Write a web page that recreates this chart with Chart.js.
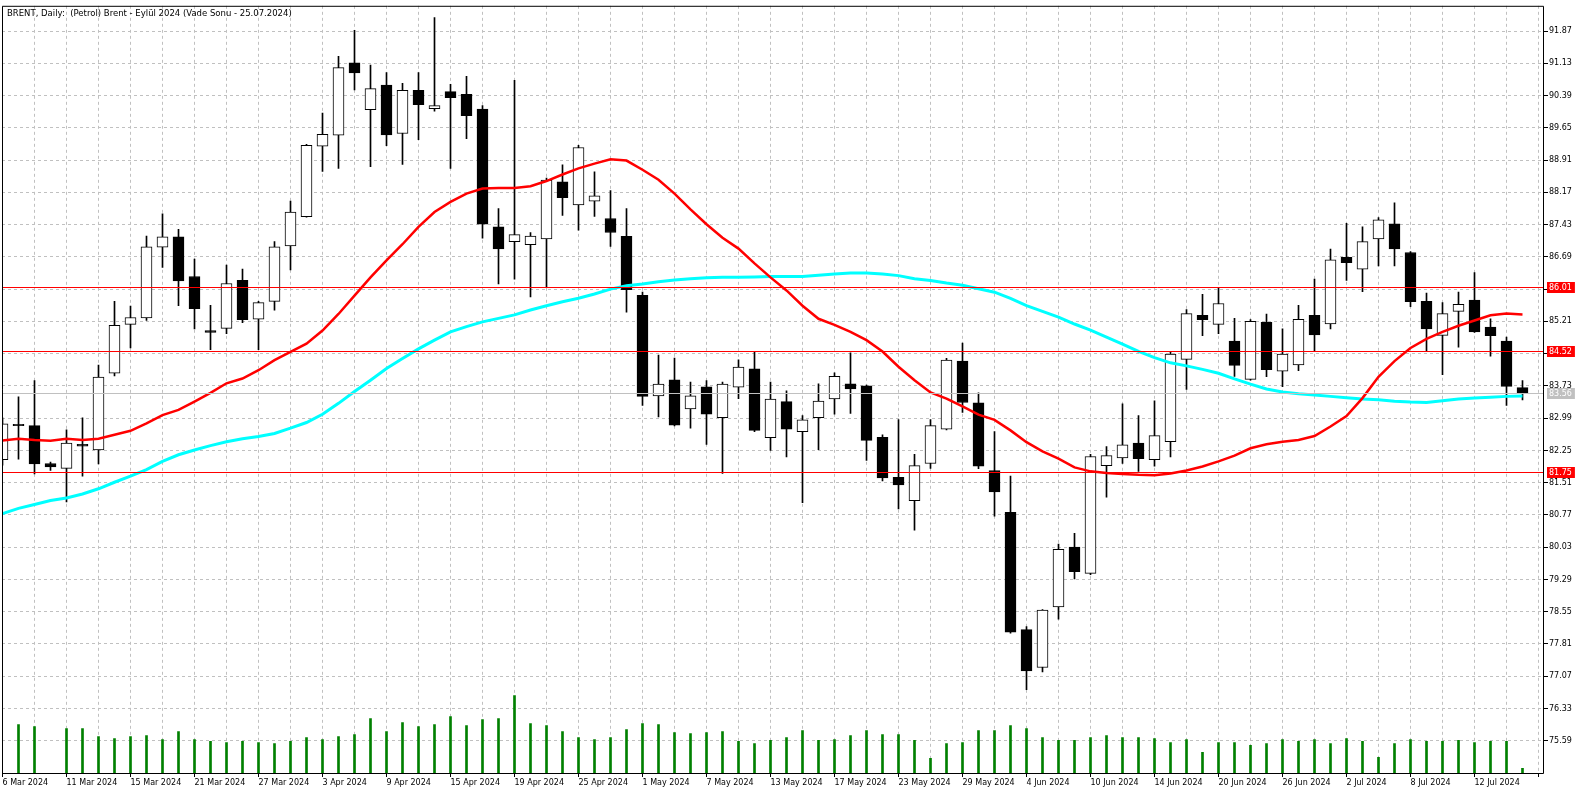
<!DOCTYPE html>
<html lang="tr">
<head>
<meta charset="UTF-8">
<title>BRENT, Daily</title>
<script src="https://cdn.jsdelivr.net/npm/chart.js"></script>
<style>
    html, body { margin: 0; padding: 0; background: #fff; }
    #wrap { width: 1586px; height: 794px; position: relative; }
</style>
</head>
<body>
<div id="wrap"><canvas id="brentChart"></canvas></div>
<script>
const chartTitle = 'BRENT, Daily:  (Petrol) Brent - Eylül 2024 (Vade Sonu - 25.07.2024)';

// one entry per daily bar (a short Sunday bar sits on 10 Mar)
const dates = [
    '6 Mar 2024', '7 Mar 2024', '8 Mar 2024', '10 Mar 2024', '11 Mar 2024', '12 Mar 2024', '13 Mar 2024', '14 Mar 2024',
    '15 Mar 2024', '18 Mar 2024', '19 Mar 2024', '20 Mar 2024', '21 Mar 2024', '22 Mar 2024', '25 Mar 2024', '26 Mar 2024',
    '27 Mar 2024', '28 Mar 2024', '1 Apr 2024', '2 Apr 2024', '3 Apr 2024', '4 Apr 2024', '5 Apr 2024', '8 Apr 2024',
    '9 Apr 2024', '10 Apr 2024', '11 Apr 2024', '12 Apr 2024', '15 Apr 2024', '16 Apr 2024', '17 Apr 2024', '18 Apr 2024',
    '19 Apr 2024', '22 Apr 2024', '23 Apr 2024', '24 Apr 2024', '25 Apr 2024', '26 Apr 2024', '29 Apr 2024', '30 Apr 2024',
    '1 May 2024', '2 May 2024', '3 May 2024', '6 May 2024', '7 May 2024', '8 May 2024', '9 May 2024', '10 May 2024',
    '13 May 2024', '14 May 2024', '15 May 2024', '16 May 2024', '17 May 2024', '20 May 2024', '21 May 2024', '22 May 2024',
    '23 May 2024', '24 May 2024', '27 May 2024', '28 May 2024', '29 May 2024', '30 May 2024', '31 May 2024', '3 Jun 2024',
    '4 Jun 2024', '5 Jun 2024', '6 Jun 2024', '7 Jun 2024', '10 Jun 2024', '11 Jun 2024', '12 Jun 2024', '13 Jun 2024',
    '14 Jun 2024', '17 Jun 2024', '18 Jun 2024', '19 Jun 2024', '20 Jun 2024', '21 Jun 2024', '24 Jun 2024', '25 Jun 2024',
    '26 Jun 2024', '27 Jun 2024', '28 Jun 2024', '1 Jul 2024', '2 Jul 2024', '3 Jul 2024', '4 Jul 2024', '5 Jul 2024',
    '8 Jul 2024', '9 Jul 2024', '10 Jul 2024', '11 Jul 2024', '12 Jul 2024', '15 Jul 2024', '16 Jul 2024', '17 Jul 2024'
];

const opens = [
    82.04, 82.85, 82.82, 81.95, 81.84, 82.39, 82.26, 84.02, 85.14, 85.29,
    86.91, 87.15, 86.24, 85.00, 85.05, 86.15, 85.26, 85.67, 86.94, 87.61,
    89.23, 89.48, 91.14, 90.07, 90.63, 89.52, 90.51, 90.09, 90.48, 90.42,
    90.08, 87.38, 87.04, 86.97, 87.10, 88.41, 87.88, 87.97, 87.57, 87.16,
    85.81, 83.50, 83.87, 83.20, 83.71, 83.00, 83.70, 84.12, 82.54, 83.37,
    82.68, 83.00, 83.43, 83.78, 83.73, 82.55, 81.63, 81.10, 81.95, 82.74,
    84.30, 83.34, 81.79, 80.83, 78.14, 77.27, 78.66, 80.03, 79.43, 81.90,
    82.08, 82.42, 82.04, 82.45, 84.34, 85.35, 85.14, 84.76, 83.88, 85.19,
    84.07, 84.21, 85.35, 85.15, 86.68, 86.41, 87.10, 87.45, 86.79, 85.67,
    84.89, 85.44, 85.70, 85.08, 84.76, 83.69
];
const highs = [
    83.00, 83.48, 83.85, 81.98, 82.72, 83.00, 84.21, 85.67, 85.56, 87.17,
    87.68, 87.32, 86.64, 85.58, 86.50, 86.41, 85.67, 87.04, 87.97, 89.27,
    89.99, 91.29, 91.89, 91.09, 90.92, 90.67, 90.92, 92.18, 90.65, 90.83,
    90.16, 87.80, 90.74, 87.25, 88.50, 88.80, 89.25, 88.64, 88.21, 87.80,
    85.88, 84.44, 84.37, 83.82, 83.85, 83.82, 84.33, 84.52, 83.82, 83.62,
    83.05, 83.78, 84.03, 84.49, 83.75, 82.61, 82.96, 82.16, 82.96, 84.36,
    84.71, 83.57, 82.68, 81.66, 78.21, 78.60, 80.10, 80.35, 82.16, 82.34,
    83.32, 83.05, 83.39, 84.51, 85.48, 85.83, 85.97, 85.28, 85.25, 85.38,
    85.04, 85.58, 86.18, 86.87, 87.46, 87.38, 87.59, 87.93, 86.81, 85.86,
    85.64, 85.88, 86.33, 85.27, 84.85, 83.85
];
const lows = [
    81.91, 82.05, 81.71, 81.79, 81.07, 81.66, 81.94, 83.96, 84.60, 85.23,
    86.45, 85.57, 85.04, 84.56, 84.93, 85.18, 84.56, 85.47, 86.39, 87.60,
    88.65, 88.72, 90.52, 88.76, 89.24, 88.81, 89.38, 90.03, 88.72, 89.40,
    87.12, 86.07, 86.18, 85.77, 85.99, 87.64, 87.30, 87.62, 86.93, 85.42,
    83.28, 83.02, 82.81, 82.76, 82.39, 81.72, 83.44, 82.68, 82.25, 82.10,
    81.05, 82.27, 83.08, 83.10, 82.02, 81.55, 80.91, 80.42, 81.84, 82.72,
    83.12, 81.83, 80.74, 78.06, 76.76, 77.17, 78.38, 79.30, 79.40, 81.18,
    81.95, 81.77, 81.89, 82.10, 83.65, 84.88, 84.93, 83.95, 83.86, 83.94,
    83.71, 84.08, 84.52, 85.04, 86.15, 85.89, 86.48, 86.48, 85.55, 84.53,
    83.99, 84.62, 84.96, 84.41, 83.28, 83.41
];
const closes = [
    82.86, 82.82, 81.94, 81.87, 82.42, 82.35, 83.93, 85.12, 85.30, 86.92,
    87.15, 86.14, 85.50, 84.96, 86.08, 85.25, 85.64, 86.92, 87.72, 89.25,
    89.50, 91.03, 90.91, 90.55, 89.49, 90.51, 90.18, 90.16, 90.34, 89.93,
    87.44, 86.87, 87.20, 87.17, 88.45, 88.05, 89.20, 88.09, 87.25, 85.94,
    83.49, 83.77, 82.83, 83.50, 83.08, 83.77, 84.16, 82.71, 83.43, 82.74,
    82.95, 83.38, 83.95, 83.66, 82.48, 81.62, 81.46, 81.90, 82.82, 84.32,
    83.35, 81.89, 81.30, 78.08, 77.19, 78.59, 79.98, 79.47, 82.11, 82.13,
    82.38, 82.06, 82.59, 84.46, 85.39, 85.25, 85.62, 84.20, 85.21, 84.10,
    84.46, 85.26, 84.90, 86.62, 86.56, 87.04, 87.54, 86.87, 85.66, 85.04,
    85.39, 85.60, 84.97, 84.88, 83.72, 83.56
];

// moving averages as drawn on the chart
const maRed = [
    82.48, 82.52, 82.49, 82.47, 82.52, 82.49, 82.52, 82.61, 82.70, 82.87,
    83.06, 83.18, 83.37, 83.57, 83.79, 83.90, 84.09, 84.32, 84.51, 84.70,
    85.00, 85.38, 85.80, 86.22, 86.61, 86.98, 87.38, 87.72, 87.95, 88.14,
    88.26, 88.27, 88.27, 88.31, 88.43, 88.58, 88.72, 88.83, 88.93, 88.90,
    88.69, 88.46, 88.14, 87.78, 87.44, 87.13, 86.88, 86.54, 86.22, 85.92,
    85.57, 85.27, 85.13, 84.97, 84.78, 84.52, 84.17, 83.86, 83.58, 83.44,
    83.26, 83.07, 82.95, 82.71, 82.44, 82.23, 82.06, 81.86, 81.77, 81.73,
    81.71, 81.69, 81.68, 81.72, 81.79, 81.88, 82.00, 82.13, 82.30, 82.39,
    82.45, 82.49, 82.58, 82.80, 83.04, 83.45, 83.94, 84.30, 84.60, 84.81,
    84.97, 85.11, 85.23, 85.35, 85.39, 85.37
];
const maCyan = [
    80.80, 80.92, 81.01, 81.10, 81.16, 81.25, 81.37, 81.52, 81.66, 81.81,
    82.00, 82.15, 82.26, 82.36, 82.45, 82.52, 82.57, 82.64, 82.76, 82.89,
    83.08, 83.33, 83.60, 83.86, 84.13, 84.36, 84.58, 84.78, 84.97, 85.09,
    85.20, 85.28, 85.36, 85.47, 85.57, 85.66, 85.74, 85.84, 85.95, 86.03,
    86.07, 86.12, 86.16, 86.19, 86.21, 86.22, 86.22, 86.23, 86.24, 86.24,
    86.24, 86.27, 86.30, 86.32, 86.32, 86.30, 86.26, 86.19, 86.15, 86.09,
    86.04, 85.96, 85.88, 85.74, 85.57, 85.44, 85.31, 85.15, 85.01, 84.85,
    84.69, 84.52, 84.38, 84.26, 84.19, 84.11, 84.02, 83.89, 83.77, 83.66,
    83.59, 83.55, 83.52, 83.49, 83.46, 83.43, 83.41, 83.38, 83.36, 83.35,
    83.39, 83.43, 83.45, 83.47, 83.49, 83.50
];

// tick volume
const volumes = [
    null, 1011, 969, null, 928, 928, 762, 720, 762, 782,
    699, 865, 699, 658, 637, 658, 637, 616, 658, 741,
    699, 762, 803, 1135, 865, 1052, 969, 1011, 1177, 990,
    1114, 1135, 1612, 1031, 990, 865, 741, 699, 741, 907,
    1031, 1011, 845, 824, 845, 865, 658, 616, 679, 741,
    886, 679, 699, 782, 886, 803, 803, 679, 305, 616,
    637, 886, 886, 990, 928, 741, 679, 679, 741, 782,
    741, 741, 720, 637, 699, 430, 637, 637, 575, 616,
    699, 658, 699, 616, 720, 658, 326, 616, 699, 658,
    658, 679, 637, 658, 658, 98
];

const priceTicks = [
    75.59, 76.33, 77.07, 77.81, 78.55, 79.29, 80.03, 80.77, 81.51, 82.25, 82.99, 83.73,
    84.47, 85.21, 85.95, 86.69, 87.43, 88.17, 88.91, 89.65, 90.39, 91.13, 91.87
];
const levels = [86.01, 84.52, 81.75];
const bidPrice = 83.56;

Chart.defaults.font.family = "'DejaVu Sans', sans-serif";
Chart.defaults.font.size = 8;
Chart.defaults.color = '#000';

const font = { family: "'DejaVu Sans', sans-serif", size: 8 };

const mtDecor = {
    id: 'mtDecor',
    beforeDraw(chart) {
        const ctx = chart.ctx;
        ctx.save();
        ctx.fillStyle = '#fff';
        ctx.fillRect(0, 0, chart.width, chart.height);
        ctx.restore();
    },
    afterDatasetsDraw(chart) {
        const { ctx, chartArea: a } = chart;
        const y = chart.scales.y;
        ctx.save();
        ctx.lineWidth = 1;

        // bid line
        let py = Math.round(y.getPixelForValue(bidPrice)) + 0.5;
        ctx.strokeStyle = '#c0c0c0';
        ctx.beginPath();
        ctx.moveTo(a.left, py);
        ctx.lineTo(a.right, py);
        ctx.stroke();

        // horizontal levels
        ctx.strokeStyle = '#ff0000';
        levels.forEach(v => {
            py = Math.round(y.getPixelForValue(v)) + 0.5;
            ctx.beginPath();
            ctx.moveTo(a.left, py);
            ctx.lineTo(a.right, py);
            ctx.stroke();
        });

        // frame
        ctx.strokeStyle = '#000';
        ctx.beginPath();
        ctx.moveTo(a.left + 0.5, a.top + 0.5);
        ctx.lineTo(a.right + 0.5, a.top + 0.5);
        ctx.lineTo(a.right + 0.5, a.bottom + 0.5);
        ctx.lineTo(a.left + 0.5, a.bottom + 0.5);
        ctx.closePath();
        ctx.stroke();
        ctx.restore();
    },
    afterDraw(chart) {
        const { ctx, chartArea: a } = chart;
        const y = chart.scales.y;
        ctx.save();
        ctx.font = "8px 'DejaVu Sans', sans-serif";
        ctx.textBaseline = 'middle';
        ctx.textAlign = 'left';

        const tag = (v, bg) => {
            const py = Math.round(y.getPixelForValue(v));
            const txt = v.toFixed(2);
            const w = ctx.measureText(txt).width + 5;
            ctx.fillStyle = bg;
            ctx.fillRect(a.right + 4, py - 5, w, 11);
            ctx.fillStyle = '#fff';
            ctx.fillText(txt, a.right + 6, py + 0.5);
        };
        levels.forEach(v => tag(v, '#ff0000'));
        tag(bidPrice, '#c0c0c0');

        ctx.fillStyle = '#000';
        ctx.font = "8.5px 'DejaVu Sans', sans-serif";
        ctx.fillText(chartTitle, a.left + 5, a.top + 8);
        ctx.restore();
    }
};

const xTicks = [];
for (let i = 0; i <= 96; i += 2) xTicks.push(i);

new Chart(document.getElementById('brentChart'), {
    type: 'bar',
    data: {
        datasets: [
            {
                type: 'line',
                label: 'MA red',
                data: maRed.map((v, i) => ({ x: i, y: v })),
                borderColor: '#ff0000',
                borderWidth: 2.5,
                pointRadius: 0,
                tension: 0,
                order: 1,
                clip: 0
            },
            {
                type: 'line',
                label: 'MA cyan',
                data: maCyan.map((v, i) => ({ x: i, y: v })),
                borderColor: '#00ffff',
                borderWidth: 3,
                pointRadius: 0,
                tension: 0,
                order: 2,
                clip: 0
            },
            {
                label: 'body',
                data: opens.map((o, i) => ({ x: i, y: [o, closes[i]] })),
                backgroundColor: c => closes[c.dataIndex] >= opens[c.dataIndex] ? '#ffffff' : '#000000',
                borderColor: '#000',
                borderWidth: 1,
                borderSkipped: false,
                barThickness: 11,
                grouped: false,
                order: 3,
                clip: 0
            },
            {
                label: 'wick',
                data: highs.map((h, i) => ({ x: i, y: [lows[i], h] })),
                backgroundColor: '#000',
                barThickness: 1,
                grouped: false,
                order: 4,
                clip: 0
            },
            {
                label: 'volume',
                data: volumes.map((v, i) => ({ x: i, y: v })),
                backgroundColor: '#008000',
                barThickness: 2,
                grouped: false,
                yAxisID: 'vol',
                order: 5,
                clip: 0
            }
        ]
    },
    options: {
        responsive: true,
        maintainAspectRatio: false,
        animation: false,
        events: [],
        layout: { padding: { left: 2, top: 2, right: 0, bottom: 0 } },
        plugins: {
            legend: { display: false },
            tooltip: { enabled: false },
            title: { display: false }
        },
        scales: {
            x: {
                type: 'linear',
                offset: false,
                min: -0.03125,
                max: 96.28125,
                afterBuildTicks: s => { s.ticks = xTicks.map(v => ({ value: v })); },
                afterFit: s => { s.height = 21; },
                ticks: {
                    autoSkip: false,
                    maxRotation: 0,
                    minRotation: 0,
                    align: 'start',
                    padding: 1,
                    font: font,
                    color: '#000',
                    callback: v => (v % 4 === 0 && dates[v]) ? dates[v] : ''
                },
                grid: {
                    offset: false,
                    color: '#c0c0c0',
                    tickColor: c => (c.tick && c.tick.value % 4 === 0) ? '#000' : 'rgba(0,0,0,0)',
                    tickLength: 4,
                    tickBorderDash: []
                },
                border: { display: false, dash: [3, 3] }
            },
            y: {
                type: 'linear',
                position: 'right',
                min: 74.85,
                max: 92.45,
                afterBuildTicks: s => { s.ticks = priceTicks.map(v => ({ value: v })); },
                afterFit: s => { s.width = 43; },
                ticks: {
                    padding: 1,
                    font: font,
                    color: '#000',
                    callback: v => v.toFixed(2)
                },
                grid: {
                    color: '#c0c0c0',
                    tickColor: '#000',
                    tickLength: 5,
                    tickBorderDash: []
                },
                border: { display: false, dash: [3, 3] }
            },
            vol: {
                type: 'linear',
                display: false,
                min: 0,
                max: 16000
            }
        }
    },
    plugins: [mtDecor]
});
</script>
</body>
</html>
